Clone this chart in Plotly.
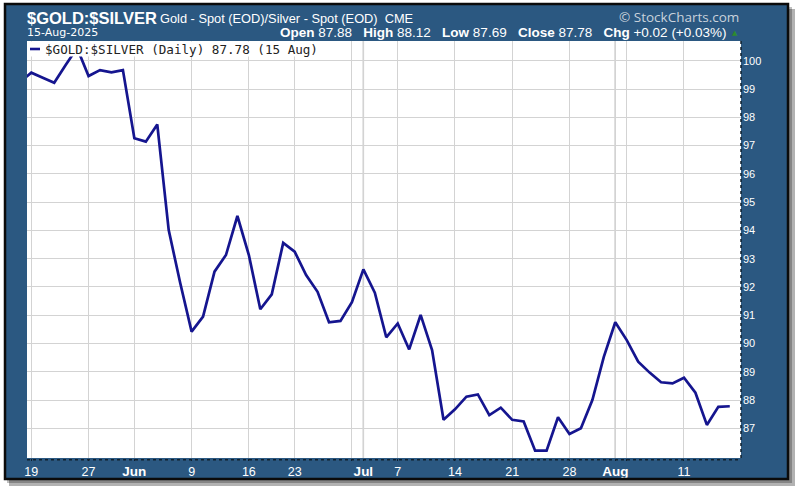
import pandas as pd
import plotly.graph_objects as go

# ---------------- data ----------------
holidays = ["2025-05-26", "2025-06-19", "2025-07-04"]
dates = [d.strftime("%Y-%m-%d") for d in pd.bdate_range("2025-05-16", "2025-08-15")
         if d.strftime("%Y-%m-%d") not in holidays]

ratio = [99.25,
         99.58, 99.40, 99.22, 99.85, 100.45,
         99.46, 99.67, 99.59, 99.67,
         97.26, 97.14, 97.75, 94.01, 92.15,
         90.42, 90.95, 92.54, 93.13, 94.51,
         93.13, 91.21, 91.74, 93.56,
         93.25, 92.42, 91.83, 90.75, 90.80,
         91.46, 92.62, 91.80, 90.22,
         90.71, 89.79, 91.01, 89.77, 87.30,
         87.67, 88.12, 88.20, 87.47, 87.73,
         87.30, 87.24, 86.21, 86.21, 87.39,
         86.80, 87.00, 88.00, 89.53, 90.75,
         90.12, 89.36, 88.97, 88.63, 88.59,
         88.79, 88.26, 87.12, 87.76, 87.78]

tick_dates = ["2025-05-19", "2025-05-27", "2025-06-02", "2025-06-09", "2025-06-16",
              "2025-06-23", "2025-06-30", "2025-07-01", "2025-07-07", "2025-07-14",
              "2025-07-21", "2025-07-28", "2025-08-01", "2025-08-04", "2025-08-11"]
tick_text = ["19", "27", "Jun", "9", "16", "23", "", "Jul", "7", "14", "21", "28", "Aug", "", "11"]
month_starts = ["2025-07-01", "2025-08-01"]
y_ticks = list(range(87, 101))

# ---------------- layout geometry ----------------
W, H = 800, 492
L, R, T, B = 27, 741, 41, 458
PW, PH = R - L, B - T


def px(x):
    return (x - L) / PW


def py(y):
    return (B - y) / PH


def prect(x0, y0, x1, y1, fill, layer="above", line=None):
    return dict(type="rect", xref="paper", yref="paper",
                x0=px(x0), x1=px(x1), y0=py(y1), y1=py(y0),
                fillcolor=fill, line=line or dict(width=0), layer=layer)


NAVY = "#15158f"
FRAME = "#2b5881"
GRID = "#d3d3d3"

fig = go.Figure()
fig.add_trace(go.Scatter(x=dates, y=ratio, mode="lines",
                         line=dict(color=NAVY, width=2.7),
                         name="$GOLD:$SILVER", showlegend=False,
                         hoverinfo="x+y"))

ticktext_fmt = []
for t in tick_text:
    if t in ("Jun", "Jul", "Aug"):
        ticktext_fmt.append(f"<b><span style='font-size:13.5px'>{t}</span></b>")
    else:
        ticktext_fmt.append(t)

shapes = []
for m in month_starts:
    shapes.append(dict(type="line", xref="x", yref="paper", x0=m, x1=m, y0=0, y1=1,
                       line=dict(color="#b5b5b5", width=1.4), layer="below"))
shapes += [
    # white page outside the frame
    prect(0, 0, 800, 4, "white"),
    prect(0, 0, 5, 492, "white"),
    prect(788, 0, 800, 492, "white"),
    prect(0, 479, 800, 492, "white"),
    # drop shadow
    prect(789, 9, 795, 486, "rgba(0,0,0,0.30)"),
    prect(9, 480, 789, 486, "rgba(0,0,0,0.30)"),
    prect(789, 7, 792, 483, "rgba(0,0,0,0.25)"),
    prect(7, 480, 789, 483, "rgba(0,0,0,0.25)"),
    # frame border
    dict(type="rect", xref="paper", yref="paper", x0=px(5), x1=px(788), y0=py(479), y1=py(4),
         fillcolor="rgba(0,0,0,0)", line=dict(color="#0b0b0b", width=2.5), layer="above"),
    # dotted axis lines
    dict(type="line", xref="paper", yref="paper", x0=1.0, x1=1.0, y0=0, y1=1,
         line=dict(color="#10202e", width=1.5, dash="dot"), layer="above"),
    dict(type="line", xref="paper", yref="paper", x0=0, x1=1, y0=-0.004, y1=-0.004,
         line=dict(color="#10202e", width=1.5, dash="dot"), layer="above"),
    # legend box and symbol
    prect(27.5, 41.5, 323, 56.5, "white"),
    dict(type="line", xref="paper", yref="paper", x0=px(30), x1=px(40), y0=py(49), y1=py(49),
         line=dict(color=NAVY, width=2.6), layer="above"),
]

annotations = [
    dict(text="<b>$GOLD:$SILVER</b>", x=px(25), y=py(18), xref="paper", yref="paper",
         xanchor="left", yanchor="middle", showarrow=False,
         font=dict(family="Liberation Sans", size=16.5, color="white")),
    dict(text="Gold - Spot (EOD)/Silver - Spot (EOD)  CME", x=px(158), y=py(18.5), xref="paper",
         yref="paper", xanchor="left", yanchor="middle", showarrow=False,
         font=dict(family="Liberation Sans", size=12.8, color="white")),
    dict(text="15-Aug-2025", x=px(25), y=py(33), xref="paper", yref="paper",
         xanchor="left", yanchor="middle", showarrow=False,
         font=dict(family="DejaVu Sans", size=11, color="white")),
    dict(text="<b>Open</b> 87.88   <b>High</b> 88.12   <b>Low</b> 87.69   <b>Close</b> 87.78   "
              "<b>Chg</b> +0.02 (+0.03%)",
         x=px(729), y=py(33), xref="paper", yref="paper",
         xanchor="right", yanchor="middle", showarrow=False,
         font=dict(family="Liberation Sans", size=13.5, color="white")),
    dict(text="▲", x=px(729.5), y=py(33), xref="paper", yref="paper",
         xanchor="left", yanchor="middle", showarrow=False,
         font=dict(family="DejaVu Sans", size=7, color="#2e8b2e")),
    dict(text="© StockCharts.com", x=px(741), y=py(17), xref="paper", yref="paper",
         xanchor="right", yanchor="middle", showarrow=False,
         font=dict(family="Open Sans", size=13.5, color="#c9d2dc")),
    dict(text=f"$GOLD:$SILVER (Daily) {ratio[-1]:.2f} (15 Aug)",
         x=px(43), y=py(49), xref="paper", yref="paper",
         xanchor="left", yanchor="middle", showarrow=False,
         font=dict(family="DejaVu Sans Mono", size=12.6, color="#222222")),
]

fig.update_layout(
    width=W, height=H,
    margin=dict(l=L, r=W - R, t=T, b=H - B, pad=0),
    paper_bgcolor=FRAME, plot_bgcolor="white",
    showlegend=False,
    shapes=shapes, annotations=annotations,
    xaxis=dict(type="category", range=[0.624, 62.98],
               tickmode="array", tickvals=tick_dates, ticktext=ticktext_fmt,
               showgrid=True, gridcolor=GRID, gridwidth=1,
               ticks="outside", ticklen=2, tickcolor="#10202e",
               tickfont=dict(family="Liberation Sans", size=12.5, color="white"),
               showline=False, zeroline=False, fixedrange=True),
    yaxis=dict(side="right", range=[85.95, 100.7],
               tickmode="array", tickvals=y_ticks, ticktext=[str(v) for v in y_ticks],
               showgrid=True, gridcolor=GRID, gridwidth=1,
               ticks="", ticklabelstandoff=1,
               tickfont=dict(family="Liberation Sans", size=11, color="white"),
               showline=False, zeroline=False, fixedrange=True),
)

fig.write_html("out.html", config={"displayModeBar": False},
               post_script="document.body.style.margin='0';document.body.style.overflow='hidden';")
